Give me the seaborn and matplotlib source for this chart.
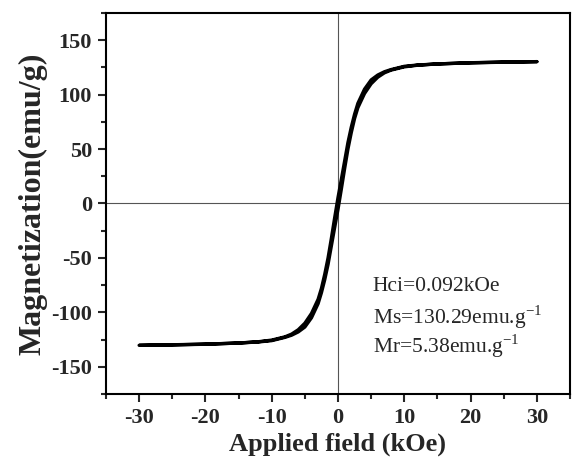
import numpy as np
import pandas as pd
import matplotlib
matplotlib.use("Agg")
import matplotlib.pyplot as plt
import seaborn as sns
from matplotlib.ticker import MultipleLocator

# Descending-field branch (H from +30 to -30 kOe)
h_down = [30, 25, 20, 15, 12, 10, 8, 7, 6, 5, 4, 3, 2.5, 2, 1.5, 1, 0.5, 0,
          -0.5, -1, -1.5, -2, -2.5, -3, -4, -5, -6, -7, -8, -10, -12, -15, -20, -25, -30]
m_down = [130.3, 129.8, 129.2, 128.2, 127.2, 126.0, 123.0, 121.0, 118.0, 113.5, 105.0, 92.0,
          82.0, 70.0, 56.0, 39.0, 22.0, 5.4,
          -13.0, -32.0, -50.0, -65.0, -78.0, -88.0, -101.0, -110.0, -116.0, -120.0, -122.5,
          -125.5, -127.0, -128.2, -129.3, -129.9, -130.3]
# Ascending-field branch (H from -30 to +30 kOe)
h_up = [-30, -25, -20, -15, -12, -10, -8, -7, -6, -5, -4, -3, -2.5, -2, -1.5, -1, -0.5, 0,
        0.5, 1, 1.5, 2, 2.5, 3, 4, 5, 6, 7, 8, 10, 12, 15, 20, 25, 30]
m_up = [-130.3, -129.8, -129.2, -128.2, -127.2, -126.0, -123.0, -121.0, -118.0, -113.5, -105.0, -92.0,
        -82.0, -70.0, -56.0, -39.0, -22.0, -5.4,
        13.0, 32.0, 50.0, 65.0, 78.0, 88.0, 101.0, 110.0, 116.0, 120.0, 122.5,
        125.5, 127.0, 128.2, 129.3, 129.9, 130.3]

x_ticks = [-30, -20, -10, 0, 10, 20, 30]
y_ticks = [-150, -100, -50, 0, 50, 100, 150]
annot_lines = ["Hci=0.092kOe", r"Ms=130.29emu.g$^{\mathregular{-1}}$", r"Mr=5.38emu.g$^{\mathregular{-1}}$"]

sns.set_style("white")
plt.rcParams["font.family"] = ["Liberation Serif", "DejaVu Serif"]
plt.rcParams["mathtext.fontset"] = "custom"
plt.rcParams["mathtext.rm"] = "Liberation Serif"

df = pd.DataFrame({
    "H": h_down + h_up,
    "M": m_down + m_up,
})

fig = plt.figure(figsize=(5.72, 4.57), dpi=100)
ax = fig.add_axes([0.1853, 0.1379, 0.8112, 0.8337])

ax.axhline(0, color="#555555", lw=0.8, zorder=1)
ax.axvline(0, color="#555555", lw=0.8, zorder=1)

sns.lineplot(data=df, x="H", y="M", sort=False, estimator=None, color="black",
             lw=2.4, ax=ax, zorder=3)

ax.set_xlim(-35, 35)
ax.set_ylim(-175, 175)
ax.set_xticks(x_ticks)
ax.set_yticks(y_ticks)
ax.set_xticklabels([str(v) for v in x_ticks])
ax.set_yticklabels([str(v) for v in y_ticks])
ax.xaxis.set_minor_locator(MultipleLocator(5))
ax.yaxis.set_minor_locator(MultipleLocator(25))
ax.tick_params(axis="both", which="major", direction="out", length=6, width=1.5,
               labelsize=16, bottom=True, left=True, top=False, right=False, pad=4)
ax.tick_params(axis="both", which="minor", direction="out", length=3.5, width=1.5,
               bottom=True, left=True, top=False, right=False)
for lab in ax.get_xticklabels() + ax.get_yticklabels():
    lab.set_fontweight("bold")

for sp in ax.spines.values():
    sp.set_visible(True)
    sp.set_color("black")
    sp.set_linewidth(1.5)

ax.set_xlabel("Applied field (kOe)", fontsize=19, fontweight="bold")
ax.set_ylabel("Magnetization(emu/g)", fontsize=23, fontweight="bold")
ax.xaxis.set_label_coords(0.5, -0.1)
ax.yaxis.set_label_coords(-0.125, 0.5)

for i, (t, yb) in enumerate(zip(annot_lines, [0.270, 0.184, 0.108])):
    ax.text(0.575, yb, t, transform=ax.transAxes, fontsize=15.5,
            ha="left", va="baseline")

fig.savefig("out.png", dpi=100, facecolor="white")
